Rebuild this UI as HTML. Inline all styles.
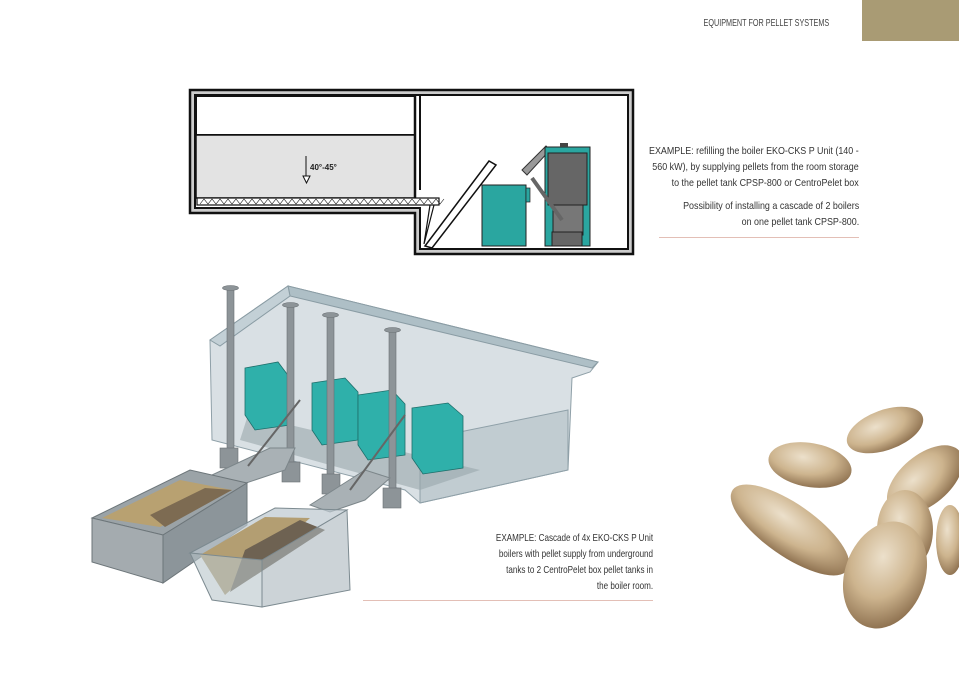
<!DOCTYPE html>
<html><head><meta charset="utf-8"><style>
html,body{margin:0;padding:0;background:#fff;}
body{width:959px;height:678px;position:relative;overflow:hidden;font-family:"Liberation Sans",sans-serif;color:#333;}
.t{position:absolute;font-size:10.5px;line-height:16px;text-align:right;white-space:nowrap;transform-origin:right top;}
</style></head><body>
<div style="position:absolute;left:862px;top:0;width:97px;height:41px;background:#a99b74"></div>
<div class="t" style="right:130px;top:15px;font-size:10.5px;color:#444;transform:scaleX(0.69)">EQUIPMENT FOR PELLET SYSTEMS</div>
<div class="t" style="right:100px;top:143px;transform:scaleX(0.85)">EXAMPLE: refilling the boiler EKO-CKS P Unit (140 -<br>560 kW), by supplying pellets from the room storage<br>to the pellet tank CPSP-800 or CentroPelet box</div>
<div class="t" style="right:100px;top:198px;transform:scaleX(0.85)">Possibility of installing a cascade of 2 boilers<br>on one pellet tank CPSP-800.</div>
<div style="position:absolute;left:659px;top:237px;width:200px;height:1px;background:#e3bfb6"></div>
<div class="t" style="right:306px;top:530px;transform:scaleX(0.77)">EXAMPLE: Cascade of 4x EKO-CKS P Unit<br>boilers with pellet supply from underground<br>tanks to 2 CentroPelet box pellet tanks in<br>the boiler room.</div>
<div style="position:absolute;left:363px;top:600px;width:290px;height:1px;background:#e3bfb6"></div>

<svg width="959" height="678" style="position:absolute;left:0;top:0">
<g stroke="#111" fill="none">
<path d="M190,90 H633 V254 H415 V213 H190 Z" fill="#ccc" stroke-width="2.5"/>
<path d="M195,95 H628 V249 H420 V208 H195 Z" fill="#fff" stroke-width="2"/>
<rect x="196" y="96" width="219" height="39" fill="#fff" stroke-width="2"/>
<rect x="196" y="135" width="219" height="63" fill="#e3e3e3" stroke-width="1.5"/>
<line x1="415" y1="96" x2="415" y2="198" stroke-width="2.5"/>
<line x1="420" y1="96" x2="420" y2="190" stroke-width="2"/>
<rect x="197" y="198" width="242" height="7" fill="#fff" stroke-width="1.2"/>
<path d="M200,204 l4,-5 l4,5 l4,-5 l4,5 l4,-5 l4,5 l4,-5 l4,5 l4,-5 l4,5 l4,-5 l4,5 l4,-5 l4,5 l4,-5 l4,5 l4,-5 l4,5 l4,-5 l4,5 l4,-5 l4,5 l4,-5 l4,5 l4,-5 l4,5 l4,-5 l4,5 l4,-5 l4,5 l4,-5 l4,5 l4,-5 l4,5 l4,-5 l4,5 l4,-5 l4,5 l4,-5 l4,5 l4,-5 l4,5 l4,-5 l4,5 l4,-5 l4,5 l4,-5 l4,5 l4,-5 l4,5 l4,-5 l4,5 l4,-5 l4,5 l4,-5 l4,5 l4,-5 l4,5 l4,-5 l4,5 l4,-5" stroke-width="0.6"/>
<path d="M425,246 L489,161 L496,165 L432,248 Z" fill="#fff" stroke-width="1.5"/>
<path d="M430,205 L424,244 L434,205" stroke-width="1.2"/>
<line x1="306" y1="156" x2="306" y2="178" stroke-width="1"/>
<path d="M303,176 h7 l-3.5,7 Z" fill="#fff" stroke-width="1"/>
</g>
<text x="310" y="170" font-family="Liberation Sans" font-size="8" font-weight="bold" fill="#222">40°-45°</text>
<rect x="482" y="185" width="44" height="61" fill="#2aa6a0" stroke="#222"/>
<rect x="526" y="188" width="4" height="14" fill="#2aa6a0" stroke="#222" stroke-width=".7"/>
<path d="M522,170 L546,146 L550,150 L527,175 Z" fill="#999" stroke="#333"/>
<rect x="545" y="147" width="45" height="99" fill="#2aa6a0" stroke="#222"/>
<rect x="548" y="153" width="39" height="52" fill="#666" stroke="#222"/>
<rect x="553" y="205" width="30" height="30" fill="#777" stroke="#222"/>
<rect x="552" y="232" width="30" height="14" fill="#666" stroke="#222"/>
<rect x="560" y="143" width="8" height="4" fill="#444"/>
<path d="M532,178 L562,220" stroke="#666" stroke-width="4"/>

<polygon points="210,340 288,286 598,362 590,372 572,378 568,470 420,503 405,490 212,440" fill="#b9c6cd" fill-opacity=".55" stroke="#8fa0a8"/>
<polygon points="288,286 598,362 592,368 290,296" fill="#aebfc6" stroke="#8a9ca4"/>
<polygon points="210,340 288,286 290,296 220,346" fill="#c3d0d6" stroke="#8a9ca4"/>
<polygon points="420,440 568,410 568,470 420,503" fill="#a9b7be" fill-opacity=".5" stroke="#8fa0a8"/>
<polygon points="248,415 480,470 420,490 240,440" fill="#9aa6ab" fill-opacity=".6"/>
<g stroke="#1e6e6a" stroke-width=".8">
<polygon points="245,368 278,362 290,378 290,425 255,430 245,415" fill="#2fb0aa"/>
<polygon points="312,383 345,378 358,392 358,440 322,445 312,430" fill="#2fb0aa"/>
<polygon points="358,395 392,390 405,404 405,455 368,460 358,445" fill="#2fb0aa"/>
<polygon points="412,408 448,403 463,416 463,468 423,474 412,458" fill="#2fb0aa"/>
</g>
<g fill="#8d9498" stroke="#6a7074" stroke-width=".6">
<rect x="227" y="288" width="7" height="162"/><ellipse cx="230.5" cy="288" rx="8" ry="2.5"/>
<rect x="287" y="305" width="7" height="162"/><ellipse cx="290.5" cy="305" rx="8" ry="2.5"/>
<rect x="327" y="315" width="7" height="162"/><ellipse cx="330.5" cy="315" rx="8" ry="2.5"/>
<rect x="389" y="330" width="7" height="162"/><ellipse cx="392.5" cy="330" rx="8" ry="2.5"/>
<rect x="220" y="448" width="18" height="20"/>
<rect x="282" y="462" width="18" height="20"/>
<rect x="322" y="474" width="18" height="20"/>
<rect x="383" y="488" width="18" height="20"/>
</g>
<polygon points="212,475 270,448 295,448 285,470 225,490" fill="#a9b1b5" stroke="#7c868a"/>
<polygon points="310,505 365,470 390,478 365,500 330,512" fill="#a9b1b5" stroke="#7c868a"/>
<line x1="248" y1="466" x2="300" y2="400" stroke="#666" stroke-width="2"/>
<line x1="350" y1="490" x2="405" y2="415" stroke="#666" stroke-width="2"/>
<polygon points="92,518 190,470 247,483 163,535" fill="#9ba3a7" stroke="#6d767a"/>
<polygon points="102,518 180,480 232,490 160,527" fill="#b8a171"/>
<polygon points="150,515 205,488 232,490 165,527" fill="#7d6b52"/>
<polygon points="92,518 163,535 163,583 92,562" fill="#a4abaf" stroke="#6d767a"/>
<polygon points="163,535 247,483 247,525 163,583" fill="#8c959a" stroke="#6d767a"/>
<polygon points="190,553 275,508 347,510 262,560" fill="#bcc8ce" fill-opacity=".7" stroke="#7c8a90"/>
<polygon points="200,555 265,517 310,518 225,595" fill="#b39e72"/>
<polygon points="245,550 300,520 325,530 230,592" fill="#6e6252"/>
<polygon points="190,553 262,560 262,607 212,600" fill="#b8c4ca" fill-opacity=".6" stroke="#7c8a90"/>
<polygon points="262,560 347,510 350,590 262,607" fill="#aab6bc" fill-opacity=".6" stroke="#7c8a90"/>
<defs>
<radialGradient id="p" cx="40%" cy="35%" r="70%"><stop offset="0" stop-color="#ece0cb"/><stop offset=".55" stop-color="#cdb48e"/><stop offset="1" stop-color="#8a6d4c"/></radialGradient>
</defs>
<g fill="url(#p)">
<ellipse cx="885" cy="430" rx="40" ry="20" transform="rotate(-20 885 430)"/>
<ellipse cx="810" cy="465" rx="42" ry="22" transform="rotate(10 810 465)"/>
<ellipse cx="925" cy="480" rx="45" ry="25" transform="rotate(-40 925 480)"/>
<ellipse cx="790" cy="530" rx="70" ry="26" transform="rotate(35 790 530)"/>
<ellipse cx="905" cy="530" rx="28" ry="40"/>
<ellipse cx="885" cy="575" rx="40" ry="55" transform="rotate(20 885 575)"/>
<ellipse cx="950" cy="540" rx="14" ry="35"/>
</g>
</svg>
</body></html>
